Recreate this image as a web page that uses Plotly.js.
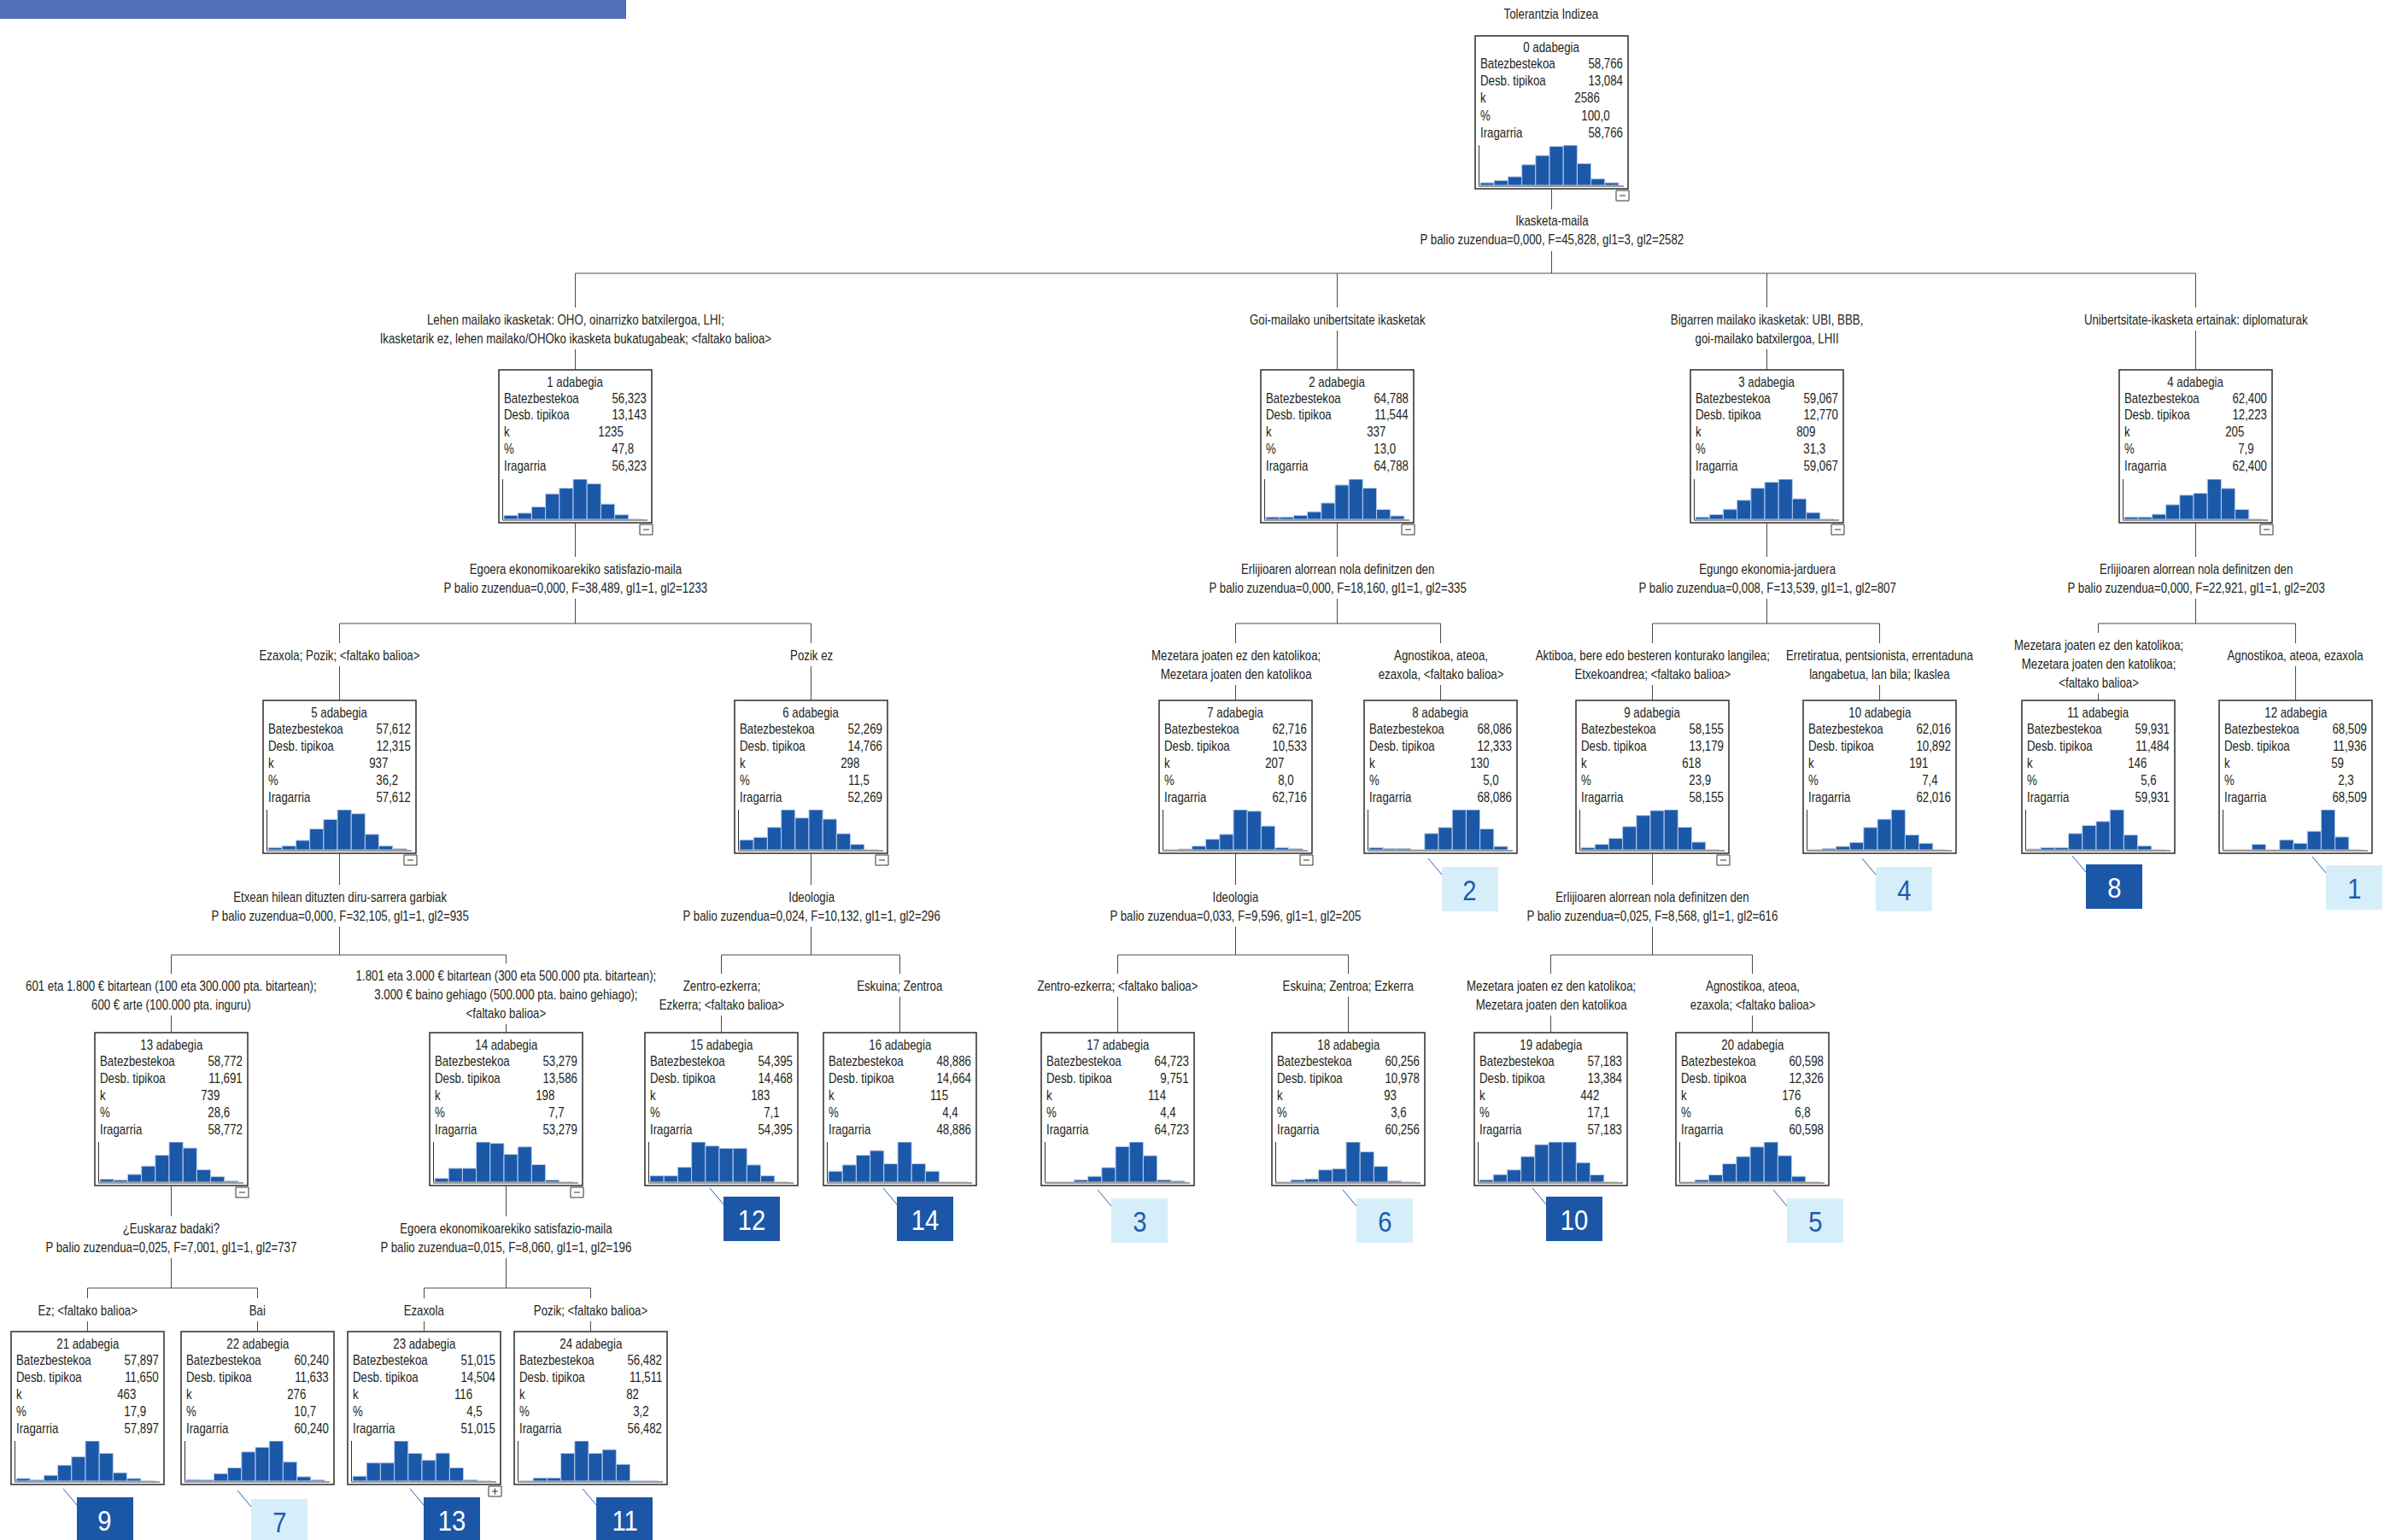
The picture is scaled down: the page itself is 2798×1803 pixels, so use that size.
<!DOCTYPE html>
<html><head><meta charset="utf-8">
<script src="https://cdn.plot.ly/plotly-3.0.1.min.js"></script>
<style>html,body{margin:0;padding:0;background:#fff;}#chart{width:2798px;height:1803px;}</style>
</head><body><div id="chart"></div>
<script>
// ---------------- DATA ----------------
const chartTitle = "Tolerantzia Indizea";
const nodeIds = [0,1,2,3,4,5,6,7,8,9,10,11,12,13,14,15,16,17,18,19,20,21,22,23,24];
const nodeMean = [58.766,56.323,64.788,59.067,62.400,57.612,52.269,62.716,68.086,58.155,62.016,59.931,68.509,58.772,53.279,54.395,48.886,64.723,60.256,57.183,60.598,57.897,60.240,51.015,56.482];
const nodeSD = [13.084,13.143,11.544,12.770,12.223,12.315,14.766,10.533,12.333,13.179,10.892,11.484,11.936,11.691,13.586,14.468,14.664,9.751,10.978,13.384,12.326,11.650,11.633,14.504,11.511];
const nodeN = [2586,1235,337,809,205,937,298,207,130,618,191,146,59,739,198,183,115,114,93,442,176,463,276,116,82];
const nodePct = [100.0,47.8,13.0,31.3,7.9,36.2,11.5,8.0,5.0,23.9,7.4,5.6,2.3,28.6,7.7,7.1,4.4,4.4,3.6,17.1,6.8,17.9,10.7,4.5,3.2];
const rowLabels = ["Batezbestekoa","Desb. tipikoa","k","%","Iragarria"];
const binIndex = [0,1,2,3,4,5,6,7,8,9];
// relative histogram heights (10 bins) per node
const histograms = [
 [9,17,30,72,104,136,140,76,23,9],
 [14,22,44,90,110,142,126,54,16,0],
 [8,8,14,27,58,122,143,111,35,12],
 [8,17,36,68,111,132,143,73,24,0],
 [8,8,18,52,86,93,143,110,35,0],
 [8,14,33,73,106,140,126,54,14,4],
 [35,44,79,141,112,141,108,57,19,0],
 [0,3,13,37,54,140,135,83,8,4],
 [8,5,5,0,57,78,140,140,73,12],
 [8,19,40,81,120,137,140,79,27,0],
 [0,5,12,26,78,107,140,52,23,0],
 [3,8,8,57,85,99,140,52,14,0],
 [0,0,19,0,35,23,65,140,45,0],
 [10,7,27,56,94,140,119,43,19,4],
 [13,48,48,140,135,97,123,61,7,0],
 [22,22,52,140,126,118,118,60,22,0],
 [38,60,94,110,64,140,64,38,0,0],
 [0,0,8,20,50,122,138,91,8,4],
 [0,8,11,42,46,138,104,54,4,0],
 [8,26,42,88,129,138,138,67,25,0],
 [0,8,25,63,88,121,138,91,20,0],
 [9,4,20,55,84,139,96,29,9,0],
 [5,4,26,46,101,117,139,66,15,4],
 [17,63,63,139,96,72,97,46,4,0],
 [0,11,11,96,139,96,109,58,0,0]
];
const parentOf = [null,0,0,0,0,1,1,2,2,3,3,4,4,5,5,6,6,7,7,9,9,13,13,14,14];
const splitVariable = {
 0:"Ikasketa-maila", 1:"Egoera ekonomikoarekiko satisfazio-maila", 2:"Erlijioaren alorrean nola definitzen den",
 3:"Egungo ekonomia-jarduera", 4:"Erlijioaren alorrean nola definitzen den", 5:"Etxean hilean dituzten diru-sarrera garbiak",
 6:"Ideologia", 7:"Ideologia", 9:"Erlijioaren alorrean nola definitzen den", 13:"¿Euskaraz badaki?",
 14:"Egoera ekonomikoarekiko satisfazio-maila"
};
const splitStats = {
 0:"P balio zuzendua=0,000, F=45,828, gl1=3, gl2=2582", 1:"P balio zuzendua=0,000, F=38,489, gl1=1, gl2=1233",
 2:"P balio zuzendua=0,000, F=18,160, gl1=1, gl2=335", 3:"P balio zuzendua=0,008, F=13,539, gl1=1, gl2=807",
 4:"P balio zuzendua=0,000, F=22,921, gl1=1, gl2=203", 5:"P balio zuzendua=0,000, F=32,105, gl1=1, gl2=935",
 6:"P balio zuzendua=0,024, F=10,132, gl1=1, gl2=296", 7:"P balio zuzendua=0,033, F=9,596, gl1=1, gl2=205",
 9:"P balio zuzendua=0,025, F=8,568, gl1=1, gl2=616", 13:"P balio zuzendua=0,025, F=7,001, gl1=1, gl2=737",
 14:"P balio zuzendua=0,015, F=8,060, gl1=1, gl2=196"
};
const edgeLabels = [
 [],
 ["Lehen mailako ikasketak: OHO, oinarrizko batxilergoa, LHI;","Ikasketarik ez, lehen mailako/OHOko ikasketa bukatugabeak; <faltako balioa>"],
 ["Goi-mailako unibertsitate ikasketak"],
 ["Bigarren mailako ikasketak: UBI, BBB,","goi-mailako batxilergoa, LHII"],
 ["Unibertsitate-ikasketa ertainak: diplomaturak"],
 ["Ezaxola; Pozik; <faltako balioa>"],
 ["Pozik ez"],
 ["Mezetara joaten ez den katolikoa;","Mezetara joaten den katolikoa"],
 ["Agnostikoa, ateoa,","ezaxola, <faltako balioa>"],
 ["Aktiboa, bere edo besteren konturako langilea;","Etxekoandrea; <faltako balioa>"],
 ["Erretiratua, pentsionista, errentaduna","langabetua, lan bila; Ikaslea"],
 ["Mezetara joaten ez den katolikoa;","Mezetara joaten den katolikoa;","<faltako balioa>"],
 ["Agnostikoa, ateoa, ezaxola"],
 ["601 eta 1.800 € bitartean (100 eta 300.000 pta. bitartean);","600 € arte (100.000 pta. inguru)"],
 ["1.801 eta 3.000 € bitartean (300 eta 500.000 pta. bitartean);","3.000 € baino gehiago (500.000 pta. baino gehiago);","<faltako balioa>"],
 ["Zentro-ezkerra;","Ezkerra; <faltako balioa>"],
 ["Eskuina; Zentroa"],
 ["Zentro-ezkerra; <faltako balioa>"],
 ["Eskuina; Zentroa; Ezkerra"],
 ["Mezetara joaten ez den katolikoa;","Mezetara joaten den katolikoa"],
 ["Agnostikoa, ateoa,","ezaxola; <faltako balioa>"],
 ["Ez; <faltako balioa>"],
 ["Bai"],
 ["Ezaxola"],
 ["Pozik; <faltako balioa>"]
];
// terminal node ranking shown in the badges
const terminalRank = {8:2,10:4,11:8,12:1,15:12,16:14,17:3,18:6,19:10,20:5,21:9,22:7,23:13,24:11};
const collapsedNodes = [23];

// ---------------- LAYOUT (pixel positions) ----------------
const W=2798, H=1803, BOX=179, LH=22;
const nodeLevel = [0,1,1,1,1,2,2,2,2,2,2,2,2,3,3,3,3,3,3,3,3,4,4,4,4];
const nodeLeft = [1727,584,1476,1979,2481,308,860,1357,1597,1845,2111,2367,2598,111,503,755,964,1219,1489,1726,1962,13,212,407,602];
const levelTop = [42,433,820,1209,1559];
const splitY = [259,666,1050,1438];
const hLineY = [null,320,730,1118,1508];
const labelY = [null,374,767,1154,1534];
const badgeDX = {8:91,10:85,11:75,12:125,15:92,16:86,17:82,18:99,19:84,20:130,21:77,22:82,23:89,24:96};
const badgeDY = {8:16,10:16,11:13,12:14,15:13,16:13,17:15,18:15,19:13,20:15,21:15,22:17,23:15,24:15};

const FONT = "'Liberation Sans',Arial,sans-serif";
const FS = 17, SQUEEZE = 0.78, SQUEEZE_BIG = 0.86;
const TXT = '#231f20', LINE = '#4a4a4a';
const BAR = '#1c58a8', BAR_EDGE = '#b7cdee';
const DARK_BADGE = '#1c57a7', LIGHT_BADGE = '#d6eefa', LIGHT_TXT = '#1f5bab';

const px = x => x / W, py = y => 1 - y / H;
const shapes = [], ann = [], traces = [];
const layout = {width:W, height:H, margin:{l:0,r:0,t:0,b:0,pad:0}, paper_bgcolor:'#fff',
  plot_bgcolor:'rgba(0,0,0,0)', showlegend:false, bargap:0, shapes:shapes, annotations:ann};

function line(x0,y0,x1,y1,color,w){shapes.push({type:'line',xref:'paper',yref:'paper',x0:px(x0),y0:py(y0),x1:px(x1),y1:py(y1),line:{color:color||LINE,width:w||1}});}
function rect(x0,y0,x1,y1,fill,lc,lw){shapes.push({type:'rect',xref:'paper',yref:'paper',x0:px(x0),y0:py(y0),x1:px(x1),y1:py(y1),fillcolor:fill||'rgba(0,0,0,0)',line:{color:lc||'rgba(0,0,0,0)',width:lw||0}});}
// lines: array of strings, y = centre of the first line
function text(lines,x,y,anchor,size,color){
  if (!Array.isArray(lines)) lines=[lines];
  anchor=anchor||'center';
  const esc = lines.map(s => s.replace(/</g,'&lt;').replace(/>/g,'&gt;'));
  ann.push({text:esc.join('<br>'),xref:'paper',yref:'paper',x:px(x),y:py(y + LH*(lines.length-1)/2),
    xanchor:anchor,align:anchor,yanchor:'middle',showarrow:false,borderpad:0,
    font:{family:FONT,size:size||FS,color:color||TXT}});
}
const f3 = v => v.toFixed(3).replace('.',',');
const f1 = v => v.toFixed(1).replace('.',',');

// top banner and title
rect(0,0,733,22,'#5070b8');
text(chartTitle, 1816, 17);

const children = {};
nodeIds.forEach(i => { const p = parentOf[i]; if (p !== null) (children[p] = children[p] || []).push(i); });
const cxOf = i => nodeLeft[i] + BOX/2;

nodeIds.forEach(i => {
  const L = nodeLeft[i], T = levelTop[nodeLevel[i]], R = L + BOX, B = T + BOX;
  rect(L,T,R,B,null,'#2b2b2b',1.5);
  text(i + ' adabegia', L + BOX/2, T + 14);
  const vals = [[f3(nodeMean[i]),R-5],[f3(nodeSD[i]),R-5],[String(nodeN[i]),R-32],[f1(nodePct[i]),R-20],[f3(nodeMean[i]),R-5]];
  rowLabels.forEach((lab,r) => {
    const y = T + 33 + 20*r;
    text(lab, L + 5, y, 'left');
    text(vals[r][0], vals[r][1], y, 'right');
  });
  // histogram subplot
  const ax = i === 0 ? '' : String(i + 1);
  const h = histograms[i];
  traces.push({type:'bar', x:binIndex, y:h, xaxis:'x'+ax, yaxis:'y'+ax, width:1,
    marker:{color:BAR, line:{color:BAR_EDGE, width:1}}, hoverinfo:'skip'});
  const b = 16.2, x0 = L + 5, x1 = L + 174, r0 = -0.5 - 1/b;
  layout['xaxis'+ax] = {domain:[px(x0),px(x1)], range:[r0, r0 + (x1-x0)/b], anchor:'y'+ax,
    showgrid:false, zeroline:false, showticklabels:false, ticks:'', showline:true, linecolor:'#9a9a9a', linewidth:2, fixedrange:true};
  layout['yaxis'+ax] = {domain:[py(T+175),py(T+128)], range:[0, Math.max(...h)], anchor:'x'+ax,
    showgrid:false, zeroline:false, showticklabels:false, ticks:'', showline:true, linecolor:'#333', linewidth:1, fixedrange:true};
  // expand/collapse box
  const hasKids = !!children[i], collapsed = collapsedNodes.includes(i);
  if (hasKids || collapsed) {
    rect(R-14,B+2,R+1,B+14,'#fff','#333',1);
    line(R-10,B+8,R-3,B+8,'#333',1);
    if (collapsed) line(R-6.5,B+4.5,R-6.5,B+11.5,'#333',1);
  }
  // badge
  if (terminalRank[i] !== undefined) {
    const rank = terminalRank[i], dark = rank > 7;
    const bx = L + badgeDX[i], by = B + badgeDY[i];
    line(bx-16, by-10, bx, by+9, '#2a5fae', 1);
    rect(bx, by, bx+66, by+52, dark ? DARK_BADGE : LIGHT_BADGE);
    text(String(rank), bx+33, by+27, 'center', 34, dark ? '#ffffff' : LIGHT_TXT);
  }
});

// connectors, split texts and edge labels
Object.keys(children).forEach(k => {
  const p = +k, kids = children[p], lvl = nodeLevel[p];
  const cx = cxOf(p), B = levelTop[lvl] + BOX, sy = splitY[lvl], hy = hLineY[lvl+1];
  line(cx, B, cx, sy - 14);
  text([splitVariable[p], splitStats[p]], cx, sy);
  line(cx, sy + LH + 13, cx, hy);
  line(cxOf(kids[0]), hy, cxOf(kids[kids.length-1]), hy);
  kids.forEach(c => {
    const ccx = cxOf(c), lines = edgeLabels[c];
    const ly0 = labelY[lvl+1] - (lines.length >= 3 ? 12 : 0);
    line(ccx, hy, ccx, ly0 - 14);
    text(lines, ccx, ly0);
    line(ccx, ly0 + LH*(lines.length-1) + 13, ccx, levelTop[lvl+1]);
  });
});

// condense the text horizontally (the reference uses a condensed typeface)
function squeeze(el, f){
  const len = el.getComputedTextLength();
  if (len > 0) { el.setAttribute('textLength', (len * f).toFixed(2)); el.setAttribute('lengthAdjust', 'spacingAndGlyphs'); }
  return len * f;
}
function condense(gd){
  gd.querySelectorAll('g.annotation').forEach(g => {
    const t = g.querySelector('text.annotation-text');
    if (!t) return;
    const size = parseFloat(t.style.fontSize) || FS;
    const f = size > 25 ? SQUEEZE_BIG : SQUEEZE;
    const parts = t.querySelectorAll('tspan.line');
    let nw = 0;
    if (parts.length) parts.forEach(s => { nw = Math.max(nw, squeeze(s, f)); }); else nw = squeeze(t, f);
    const bg = g.querySelector('rect.bg');
    if (bg) {
      const w = parseFloat(bg.getAttribute('width')) || 0, x = parseFloat(bg.getAttribute('x')) || 0;
      const a = t.getAttribute('text-anchor');
      const shift = a === 'start' ? 0 : (a === 'end' ? (w - nw) : (w - nw) / 2);
      bg.setAttribute('width', Math.max(0, nw).toFixed(2));
      bg.setAttribute('x', (x + shift).toFixed(2));
    }
  });
}
Plotly.newPlot('chart', traces, layout, {staticPlot:true, displayModeBar:false}).then(condense);
</script></body></html>
